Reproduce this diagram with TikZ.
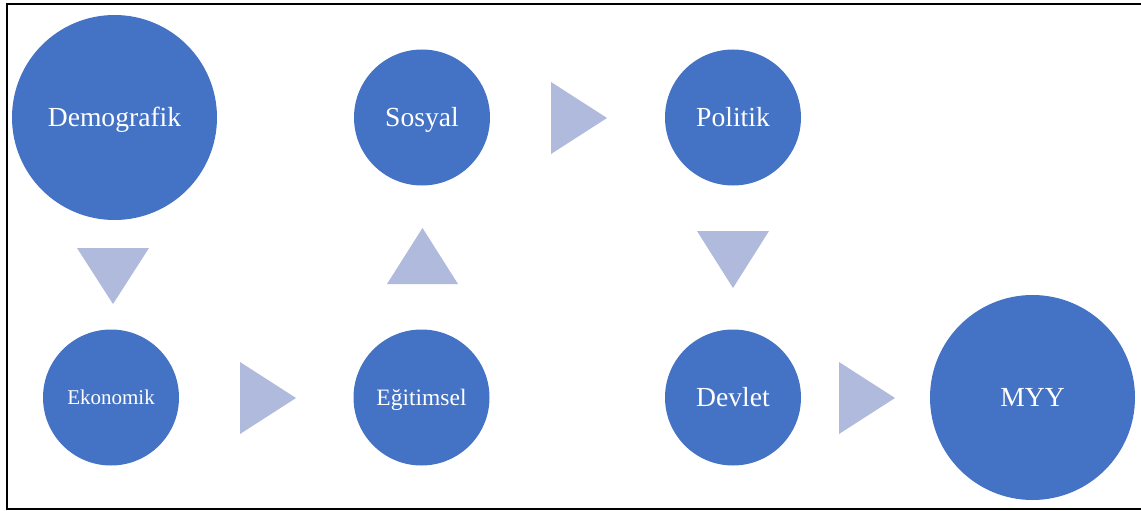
\documentclass[tikz,border=0pt]{standalone}
\usepackage{fontspec}
\setmainfont{Liberation Serif}
\definecolor{circblue}{HTML}{4472C4}
\definecolor{trilight}{HTML}{AFBADC}
\begin{document}
\begin{tikzpicture}[x=1pt,y=-1pt,
  circ/.style={circle,fill=circblue,text=white,inner sep=0pt,text height=18pt,text depth=0pt,font=\fontsize{27.6}{30}\selectfont},
  bigc/.style={circ,minimum size=205pt},
  smallc/.style={circ,minimum size=136pt},
  tri/.style={fill=trilight}]
\useasboundingbox (0,0) rectangle (1141,511);
\draw[line width=2pt,black] (6.5,4.5) rectangle (1150,508.5);
\node[bigc] (dem) at (114.5,117.5) {Demografik};
\node[smallc] (sos) at (422,117.5) {Sosyal};
\node[smallc] (pol) at (733,117.5) {Politik};
\node[smallc,font=\fontsize{21}{24}\selectfont,text height=14pt] (eko) at (111,397.5) {Ekonomik};
\node[smallc,font=\fontsize{23.5}{26}\selectfont,text height=15.5pt] (egi) at (421.5,397.5) {Eğitimsel};
\node[smallc] (dev) at (733,397.5) {Devlet};
\node[bigc] (myy) at (1032.5,397.5) {MYY};
% triangles
\fill[tri] (77,248) -- (149,248) -- (113,304) -- cycle;
\fill[tri] (240,362) -- (296,398) -- (240,434) -- cycle;
\fill[tri] (387,284) -- (458,284) -- (422.5,228) -- cycle;
\fill[tri] (551,82) -- (607,118) -- (551,154) -- cycle;
\fill[tri] (697,231) -- (769,231) -- (733,288) -- cycle;
\fill[tri] (839,362) -- (895,398) -- (839,434) -- cycle;
\end{tikzpicture}
\end{document}
